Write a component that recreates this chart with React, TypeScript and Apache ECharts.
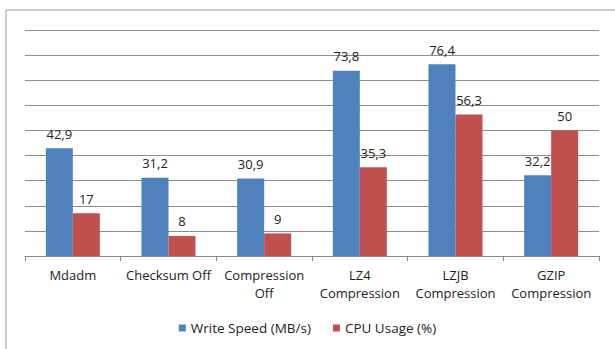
import React, { useEffect, useRef } from "react";
import * as echarts from "echarts";

const categories = ["Mdadm", "Checksum Off", "Compression\nOff", "LZ4\nCompression", "LZJB\nCompression", "GZIP\nCompression"];
const writeSpeed = [42.9, 31.2, 30.9, 73.8, 76.4, 32.2];
const cpuUsage = [17, 8, 9, 35.3, 56.3, 50];
const seriesNames = ["Write Speed (MB/s)", "CPU Usage (%)"];

const FONT = "'Open Sans', 'Noto Sans', sans-serif";

export default function App() {
  const ref = useRef<HTMLDivElement>(null);
  useEffect(() => {
    const chart = echarts.init(ref.current!, null, { renderer: "svg" });
    const fmt = (p: any) => String(p.value).replace(".", ",");
    const label = {
      show: true,
      position: "top",
      distance: 8,
      color: "#222",
      fontSize: 13,
      fontFamily: FONT,
      formatter: fmt,
    };
    chart.setOption({
      animation: false,
      textStyle: { fontFamily: FONT },
      grid: { left: 25, right: 16, top: 30, bottom: 93, containLabel: false },
      legend: {
        bottom: 9,
        left: "center",
        itemWidth: 7,
        itemHeight: 7,
        itemGap: 22,
        icon: "rect",
        textStyle: { fontSize: 13.5, color: "#222", fontFamily: FONT },
        data: seriesNames,
      },
      xAxis: {
        type: "category",
        data: categories,
        axisLine: { lineStyle: { color: "#888" } },
        axisTick: { show: true, length: 5, lineStyle: { color: "#888" } },
        axisLabel: { fontSize: 13, color: "#222", lineHeight: 18, margin: 10, interval: 0, fontFamily: FONT },
      },
      yAxis: {
        type: "value",
        min: 0,
        max: 90,
        interval: 10,
        axisLine: { show: false },
        axisTick: { show: false },
        axisLabel: { show: false },
        splitLine: { lineStyle: { color: "#8c8c8c", width: 1 } },
      },
      series: [
        {
          name: seriesNames[0],
          type: "bar",
          data: writeSpeed,
          barWidth: 27,
          barGap: "0%",
          itemStyle: { color: "#4F81BD" },
          label,
        },
        {
          name: seriesNames[1],
          type: "bar",
          data: cpuUsage,
          barWidth: 27,
          itemStyle: { color: "#C0504D" },
          label,
        },
      ],
      graphic: [
        { type: "line", shape: { x1: 6, y1: 10, x2: 615, y2: 10 }, style: { stroke: "#bbb", lineWidth: 1.5 } },
        { type: "line", shape: { x1: 6, y1: 10, x2: 6, y2: 349 }, style: { stroke: "#bbb", lineWidth: 1.5 } },
      ],
    });
    return () => chart.dispose();
  }, []);
  return <div ref={ref} style={{ width: 615, height: 349, position: "absolute", left: 0, top: 0 }} />;
}
